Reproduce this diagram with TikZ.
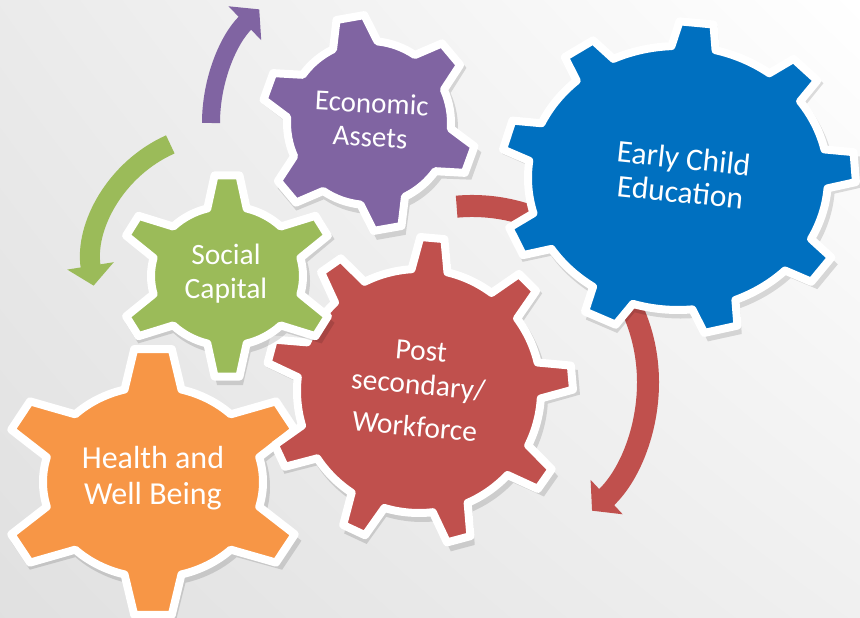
\documentclass[tikz,border=0pt]{standalone}
\usepackage{fontspec}
\setmainfont{Carlito}
\usetikzlibrary{arrows.meta,shadings}

\definecolor{assetpurple}{HTML}{8064A2}
\definecolor{socialgreen}{HTML}{9BBB59}
\definecolor{workred}{HTML}{C0504D}
\definecolor{healthorange}{HTML}{F79646}
\definecolor{earlyblue}{HTML}{0070C0}

% #1 teeth, #2 inner radius, #3 outer radius, #4 half base angle, #5 half tip angle, #6 turn
\newcommand{\gearpath}[6]{%
  ({#6-#4}:{#2}) \foreach \k in {1,...,#1} {
    -- ({#6+(\k-1)*360/#1-#5}:{#3}) -- ({#6+(\k-1)*360/#1+#5}:{#3})
    -- ({#6+(\k-1)*360/#1+#4}:{#2})
    arc[start angle={#6+(\k-1)*360/#1+#4}, end angle={#6+\k*360/#1-#4}, radius={#2}]
  } -- cycle}

% #1 hub, #2..#7 as above, #8 colour, #9 yscale
\newcommand{\gear}[9]{%
  \fill[black, opacity=0.13, shift={(#1)}, xshift=3pt, yshift=-5pt, yscale=#9]
    \gearpath{#2}{#3+4}{#4+4}{#5}{#6}{#7};
  \filldraw[gearbox, fill=#8, shift={(#1)}, yscale=#9]
    \gearpath{#2}{#3}{#4}{#5}{#6}{#7};
}

\begin{document}
\begin{tikzpicture}[x=1pt, y=1pt,
    gearbox/.style={draw=white, line width=8pt, line join=round},
    gearlabel/.style={text=white, align=center, font=\fontsize{29.5}{34}\selectfont},
    turnarrow/.style={line width=#1, -{Triangle[width=46pt, length=20pt]}}]
    \useasboundingbox (0,0) rectangle (860,618);
    \clip (0,0) rectangle (860,618);
    \shade[upper left=black!8, upper right=white, lower left=black!12, lower right=black!6]
        (0,0) rectangle (860,618);

    \coordinate (healthhub) at (153,136);
    \coordinate (workhub) at (419,227);
    \coordinate (socialhub) at (227,342);
    \coordinate (assethub) at (369,495);
    \coordinate (earlyhub) at (678,440);
    \coordinate (redturn) at (472,236);
    \coordinate (greenturn) at (224,353);

    % turning arrows
    \draw[turnarrow=18pt, assetpurple] (assethub) ++(180:158)
        arc[start angle=180, end angle=134, radius=158];
    \draw[turnarrow=20pt, socialgreen] (greenturn) ++(114:132)
        arc[start angle=114, end angle=189, radius=132];
    \draw[turnarrow=22pt, workred] (redturn) ++(95:176)
        arc[start angle=95, end angle=-47, radius=176];

    % gears
    \gear{healthhub}{6}{110}{154}{15}{7}{90}{healthorange}{0.87}
    \gear{workhub}{9}{122}{154}{8.5}{4.5}{85}{workred}{1}
    \gear{socialhub}{6}{76}{110}{15}{6.5}{90}{socialgreen}{0.92}
    \gear{assethub}{6}{82}{108}{16}{7.5}{100}{assetpurple}{1}
    \gear{earlyhub}{9}{150}{178}{8.5}{5.5}{84}{earlyblue}{0.88}

    \node[gearlabel, font=\fontsize{32}{36}\selectfont] (health) at (153,140) {Health and\\Well Being};
    \node[gearlabel, rotate=-5] (work) at (418,229) {Post\\secondary/\\[8pt]Workforce};
    \node[gearlabel] (social) at (226,344) {Social\\Capital};
    \node[gearlabel, font=\fontsize{29}{34}\selectfont, rotate=-3] (assets) at (371,498) {Economic\\Assets};
    \node[gearlabel, font=\fontsize{31.5}{34}\selectfont, rotate=-6] (early) at (682,443) {Early Child\\Education};
\end{tikzpicture}
\end{document}
